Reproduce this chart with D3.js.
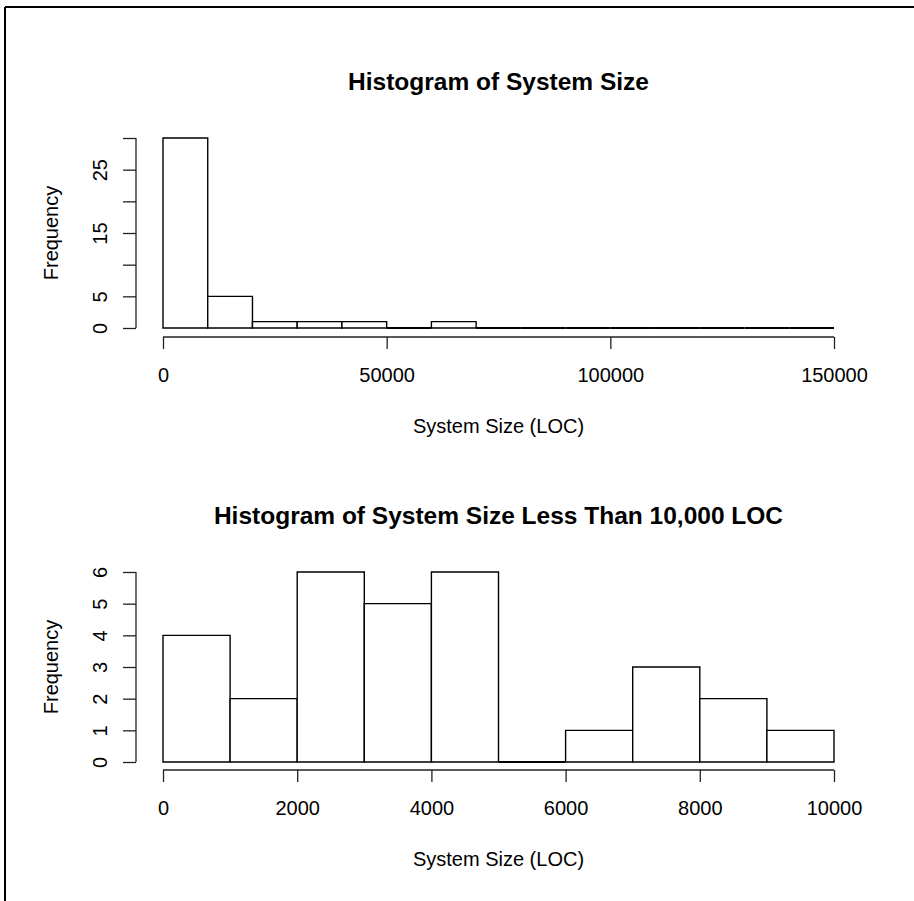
<!DOCTYPE html>
<html>
<head>
<meta charset="utf-8">
<script src="https://cdn.jsdelivr.net/npm/d3@7"></script>
<style>
html,body{margin:0;padding:0;background:#fff;}
text{font-family:"Liberation Sans",Arial,Helvetica,sans-serif;fill:#000;}
</style>
</head>
<body>
<svg id="chart" width="914" height="901"></svg>
<script>
// ---- data ----
const topBinWidth = 10000;
const topCounts = [30, 5, 1, 1, 1, 0, 1, 0, 0, 0, 0, 0, 0, 0, 0];
const topXTicks = [0, 50000, 100000, 150000];
const topYTicks = [0, 5, 10, 15, 20, 25, 30];
const topYLabels = [0, 5, 15, 25];

const botBinWidth = 1000;
const botCounts = [4, 2, 6, 5, 6, 0, 1, 3, 2, 1];
const botXTicks = [0, 2000, 4000, 6000, 8000, 10000];
const botYTicks = [0, 1, 2, 3, 4, 5, 6];
const botYLabels = [0, 1, 2, 3, 4, 5, 6];

const titles = ["Histogram of System Size", "Histogram of System Size Less Than 10,000 LOC"];
const xTitle = "System Size (LOC)";
const yTitle = "Frequency";

const svg = d3.select("#chart");

// frame
svg.append("line").attr("x1", 5).attr("x2", 914).attr("y1", 7).attr("y2", 7)
  .attr("stroke", "#000").attr("stroke-width", 2);
svg.append("line").attr("x1", 5).attr("x2", 5).attr("y1", 7).attr("y2", 901)
  .attr("stroke", "#000").attr("stroke-width", 2);

function panel(cfg) {
  const x = d3.scaleLinear().domain([0, cfg.xMax]).range([163, 834]);
  const y = d3.scaleLinear().domain([0, cfg.yMax]).range([cfg.y0, cfg.yTop]);
  const g = svg.append("g");
  const bins = cfg.counts.map((c, i) => ({x0: i * cfg.bw, x1: (i + 1) * cfg.bw, c}));
  g.selectAll("path.bar").data(bins).enter().append("path")
    .attr("d", d => `M${x(d.x0)},${y(0)}V${y(d.c)}H${x(d.x1)}V${y(0)}Z`)
    .attr("fill", "#fff").attr("stroke", "#000")
    .attr("stroke-width", d => d.c === 0 ? 2 : 1.4);

  // x axis
  const xa = d3.axisBottom(x).tickValues(cfg.xTicks).tickFormat(d3.format("d"))
    .tickSize(12).tickSizeOuter(0);
  const gx = g.append("g").attr("transform", `translate(0,${cfg.xAxisY})`).call(xa);
  gx.select(".domain").attr("d", `M${x(cfg.xTicks[0])},0H${x(cfg.xTicks[cfg.xTicks.length-1])}`)
    .attr("stroke", "#222").attr("stroke-width", 1.3);
  gx.selectAll(".tick line").attr("stroke", "#222").attr("stroke-width", 1.3);
  gx.selectAll(".tick text").attr("font-size", 20).attr("y", 0).attr("dy", 0)
    .attr("transform", "translate(0,45)")
    .style("font-family", '"Liberation Sans",Arial,sans-serif').attr("fill", "#000");

  // y axis
  const ya = d3.axisLeft(y).tickValues(cfg.yTicks).tickSize(13).tickSizeOuter(0)
    .tickFormat(d => cfg.yLabels.includes(d) ? String(d) : "");
  const gy = g.append("g").attr("transform", `translate(136,0)`).call(ya);
  gy.select(".domain").attr("d", `M0,${y(cfg.yTicks[0])}V${y(cfg.yTicks[cfg.yTicks.length-1])}`)
    .attr("stroke", "#222").attr("stroke-width", 1.3);
  gy.selectAll(".tick line").attr("stroke", "#222").attr("stroke-width", 1.3);
  gy.selectAll(".tick text").attr("font-size", 20).attr("x", 0).attr("dy", 0)
    .attr("text-anchor", "middle")
    .attr("transform", "translate(-29,0) rotate(-90)")
    .style("font-family", '"Liberation Sans",Arial,sans-serif').attr("fill", "#000");

  // titles
  g.append("text").attr("x", 498.5).attr("y", cfg.titleY).attr("text-anchor", "middle")
    .attr("font-size", 24.5).attr("font-weight", "bold").text(cfg.title);
  g.append("text").attr("x", 498.5).attr("y", cfg.xAxisY + 96).attr("text-anchor", "middle")
    .attr("font-size", 20).text(xTitle);
  g.append("text").attr("transform", `translate(58,${(cfg.y0 + cfg.yTop) / 2}) rotate(-90)`)
    .attr("text-anchor", "middle").attr("font-size", 20).text(yTitle);
}

panel({counts: topCounts, bw: topBinWidth, xMax: 150000, yMax: 30, y0: 328, yTop: 138,
  xAxisY: 337, xTicks: topXTicks, yTicks: topYTicks, yLabels: topYLabels,
  title: titles[0], titleY: 90});
panel({counts: botCounts, bw: botBinWidth, xMax: 10000, yMax: 6, y0: 762, yTop: 572,
  xAxisY: 770, xTicks: botXTicks, yTicks: botYTicks, yLabels: botYLabels,
  title: titles[1], titleY: 524});
</script>
</body>
</html>
